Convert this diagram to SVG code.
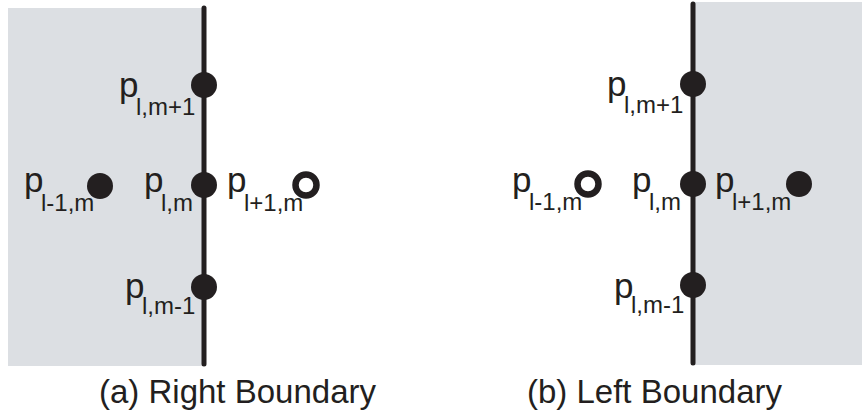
<svg xmlns="http://www.w3.org/2000/svg" width="862" height="418" viewBox="0 0 862 418">
  <style>
    .region { fill: #dcdfe3; }
    .boundary { stroke: #231f20; stroke-width: 5; stroke-linecap: round; fill: none; }
    .dot { fill: #231f20; }
    .ring { fill: #ffffff; stroke: #231f20; stroke-width: 6.5; }
    text { font-family: "Liberation Sans", Arial, sans-serif; fill: #231f20; }
    .p { font-size: 35px; }
    .sub { font-size: 24px; }
    .caption { font-size: 33px; }
  </style>

  <!-- (a) Right boundary: domain lies to the left -->
  <g id="panel-a">
    <rect class="region" x="8" y="8" width="196" height="358"/>
    <g id="a-connectors">
      <line class="boundary" x1="204" y1="8" x2="204" y2="364"/>
    </g>
    <g id="a-p-l-mp1">
      <circle class="dot" cx="204" cy="85" r="13"/>
      <text class="p" x="119" y="97">p</text>
      <text class="sub" x="136" y="115">l,m+1</text>
    </g>
    <g id="a-p-lm1-m">
      <circle class="dot" cx="100" cy="186" r="13"/>
      <text class="p" x="24" y="192">p</text>
      <text class="sub" x="41" y="211">l-1,m</text>
    </g>
    <g id="a-p-l-m">
      <circle class="dot" cx="204" cy="185" r="13"/>
      <text class="p" x="144" y="192">p</text>
      <text class="sub" x="161" y="211">l,m</text>
    </g>
    <g id="a-p-lp1-m">
      <circle class="ring" cx="306" cy="185" r="10.5"/>
      <text class="p" x="227" y="192">p</text>
      <text class="sub" x="244" y="211">l+1,m</text>
    </g>
    <g id="a-p-l-mm1">
      <circle class="dot" cx="204" cy="287" r="13"/>
      <text class="p" x="125" y="298">p</text>
      <text class="sub" x="142" y="314">l,m-1</text>
    </g>
    <text class="caption" x="99" y="403">(a) Right Boundary</text>
  </g>

  <!-- (b) Left boundary: domain lies to the right -->
  <g id="panel-b">
    <rect class="region" x="693" y="2" width="169" height="363"/>
    <g id="b-connectors">
      <line class="boundary" x1="693" y1="4" x2="693" y2="363"/>
    </g>
    <g id="b-p-l-mp1">
      <circle class="dot" cx="693" cy="84" r="13"/>
      <text class="p" x="607" y="96">p</text>
      <text class="sub" x="624" y="113">l,m+1</text>
    </g>
    <g id="b-p-lm1-m">
      <circle class="ring" cx="588" cy="184" r="10.5"/>
      <text class="p" x="512" y="192">p</text>
      <text class="sub" x="529" y="210">l-1,m</text>
    </g>
    <g id="b-p-l-m">
      <circle class="dot" cx="693" cy="184" r="13"/>
      <text class="p" x="632" y="192">p</text>
      <text class="sub" x="649" y="210">l,m</text>
    </g>
    <g id="b-p-lp1-m">
      <circle class="dot" cx="799" cy="184" r="13"/>
      <text class="p" x="715" y="192">p</text>
      <text class="sub" x="732" y="210">l+1,m</text>
    </g>
    <g id="b-p-l-mm1">
      <circle class="dot" cx="693" cy="285" r="13"/>
      <text class="p" x="614" y="298">p</text>
      <text class="sub" x="631" y="313">l,m-1</text>
    </g>
    <text class="caption" x="527" y="403">(b) Left Boundary</text>
  </g>
</svg>
